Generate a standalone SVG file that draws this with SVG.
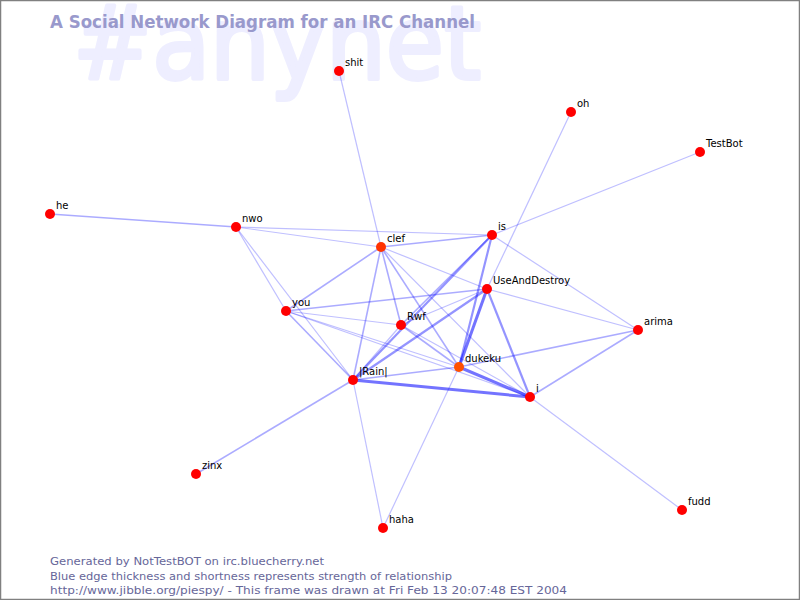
<svg xmlns="http://www.w3.org/2000/svg" width="800" height="600" viewBox="0 0 800 600">
<style>
.bg{font-family:"DejaVu Sans","Liberation Sans",sans-serif;font-weight:normal;font-size:102px;fill:#eeeeff;stroke:#eeeeff;stroke-width:4;stroke-linejoin:round}
.title{font-family:"DejaVu Sans","Liberation Sans",sans-serif;font-weight:bold;font-size:17px;fill:#9999cc}
.foot{font-family:"DejaVu Sans","Liberation Sans",sans-serif;font-size:11px;fill:#666699}
.lbl{font-family:"DejaVu Sans","Liberation Sans",sans-serif;font-size:10px;fill:#000}
.n{fill:#ff0000}
.e1{stroke:#0000ff;stroke-opacity:.25;stroke-width:1.2}
.e2{stroke:#0000ff;stroke-opacity:.33;stroke-width:1.6}
.e3{stroke:#0000ff;stroke-opacity:.42;stroke-width:2.2}
.e4{stroke:#0000ff;stroke-opacity:.55;stroke-width:3}
</style>
<rect x="0" y="0" width="800" height="600" fill="#ffffff"/>
<rect x="0.5" y="0.5" width="799" height="599" fill="none" stroke="#808080" stroke-width="1.5"/>
<text class="bg" x="73" y="79" textLength="408" lengthAdjust="spacingAndGlyphs">#anynet</text>
<text class="title" x="50" y="28" textLength="425" lengthAdjust="spacingAndGlyphs">A Social Network Diagram for an IRC Channel</text>
<g id="connectors" fill="none">
<line class="e1" x1="339" y1="71" x2="381" y2="247"/>
<line class="e1" x1="571" y1="112" x2="487" y2="289"/>
<line class="e1" x1="700" y1="152" x2="492" y2="235"/>
<line class="e2" x1="50" y1="214" x2="236" y2="227"/>
<line class="e1" x1="236" y1="227" x2="492" y2="235"/>
<line class="e1" x1="236" y1="227" x2="381" y2="247"/>
<line class="e1" x1="236" y1="227" x2="286" y2="311"/>
<line class="e1" x1="236" y1="227" x2="353" y2="380"/>
<line class="e2" x1="381" y1="247" x2="492" y2="235"/>
<line class="e2" x1="381" y1="247" x2="286" y2="311"/>
<line class="e2" x1="381" y1="247" x2="353" y2="380"/>
<line class="e2" x1="381" y1="247" x2="401" y2="325"/>
<line class="e2" x1="381" y1="247" x2="459" y2="367"/>
<line class="e1" x1="381" y1="247" x2="487" y2="289"/>
<line class="e1" x1="381" y1="247" x2="530" y2="397"/>
<line class="e1" x1="492" y1="235" x2="638" y2="330"/>
<line class="e2" x1="492" y1="235" x2="401" y2="325"/>
<line class="e3" x1="492" y1="235" x2="353" y2="380"/>
<line class="e3" x1="492" y1="235" x2="459" y2="367"/>
<line class="e1" x1="487" y1="289" x2="638" y2="330"/>
<line class="e2" x1="487" y1="289" x2="286" y2="311"/>
<line class="e1" x1="487" y1="289" x2="401" y2="325"/>
<line class="e3" x1="487" y1="289" x2="353" y2="380"/>
<line class="e4" x1="487" y1="289" x2="459" y2="367"/>
<line class="e3" x1="487" y1="289" x2="530" y2="397"/>
<line class="e1" x1="286" y1="311" x2="401" y2="325"/>
<line class="e1" x1="286" y1="311" x2="459" y2="367"/>
<line class="e1" x1="286" y1="311" x2="530" y2="397"/>
<line class="e2" x1="286" y1="311" x2="353" y2="380"/>
<line class="e1" x1="401" y1="325" x2="353" y2="380"/>
<line class="e2" x1="401" y1="325" x2="459" y2="367"/>
<line class="e1" x1="401" y1="325" x2="530" y2="397"/>
<line class="e2" x1="353" y1="380" x2="459" y2="367"/>
<line class="e4" x1="353" y1="380" x2="530" y2="397"/>
<line class="e2" x1="353" y1="380" x2="196" y2="474"/>
<line class="e1" x1="353" y1="380" x2="383" y2="528"/>
<line class="e1" x1="459" y1="367" x2="383" y2="528"/>
<line class="e4" x1="459" y1="367" x2="530" y2="397"/>
<line class="e2" x1="459" y1="367" x2="638" y2="330"/>
<line class="e2" x1="530" y1="397" x2="638" y2="330"/>
<line class="e1" x1="530" y1="397" x2="682" y2="510"/>
</g>
<g id="node-shit"><circle class="n" cx="339" cy="71" r="5"/><text class="lbl" x="345" y="66">shit</text></g>
<g id="node-oh"><circle class="n" cx="571" cy="112" r="5"/><text class="lbl" x="577" y="107">oh</text></g>
<g id="node-TestBot"><circle class="n" cx="700" cy="152" r="5"/><text class="lbl" x="706" y="147">TestBot</text></g>
<g id="node-he"><circle class="n" cx="50" cy="214" r="5"/><text class="lbl" x="56" y="209">he</text></g>
<g id="node-nwo"><circle class="n" cx="236" cy="227" r="5"/><text class="lbl" x="242" y="222">nwo</text></g>
<g id="node-clef"><circle cx="381" cy="247" r="5" fill="#ff3300"/><text class="lbl" x="387" y="242">clef</text></g>
<g id="node-is"><circle class="n" cx="492" cy="235" r="5"/><text class="lbl" x="498" y="230">is</text></g>
<g id="node-UseAndDestroy"><circle class="n" cx="487" cy="289" r="5"/><text class="lbl" x="493" y="284">UseAndDestroy</text></g>
<g id="node-you"><circle class="n" cx="286" cy="311" r="5"/><text class="lbl" x="292" y="306">you</text></g>
<g id="node-Rwf"><circle class="n" cx="401" cy="325" r="5"/><text class="lbl" x="407" y="320">Rwf</text></g>
<g id="node-arima"><circle class="n" cx="638" cy="330" r="5"/><text class="lbl" x="644" y="325">arima</text></g>
<g id="node-dukeku"><circle cx="459" cy="367" r="5" fill="#ff5000"/><text class="lbl" x="465" y="362">dukeku</text></g>
<g id="node-Rain"><circle class="n" cx="353" cy="380" r="5"/><text class="lbl" x="359" y="375">|Rain|</text></g>
<g id="node-i"><circle class="n" cx="530" cy="397" r="5"/><text class="lbl" x="536" y="392">i</text></g>
<g id="node-zinx"><circle class="n" cx="196" cy="474" r="5"/><text class="lbl" x="202" y="469">zinx</text></g>
<g id="node-fudd"><circle class="n" cx="682" cy="510" r="5"/><text class="lbl" x="688" y="505">fudd</text></g>
<g id="node-haha"><circle class="n" cx="383" cy="528" r="5"/><text class="lbl" x="389" y="523">haha</text></g>
<text class="foot" x="50" y="565" textLength="274" lengthAdjust="spacingAndGlyphs">Generated by NotTestBOT on irc.bluecherry.net</text>
<text class="foot" x="50" y="580" textLength="402" lengthAdjust="spacingAndGlyphs">Blue edge thickness and shortness represents strength of relationship</text>
<text class="foot" x="50" y="594" textLength="517" lengthAdjust="spacingAndGlyphs">http://www.jibble.org/piespy/ - This frame was drawn at Fri Feb 13 20:07:48 EST 2004</text>
</svg>
